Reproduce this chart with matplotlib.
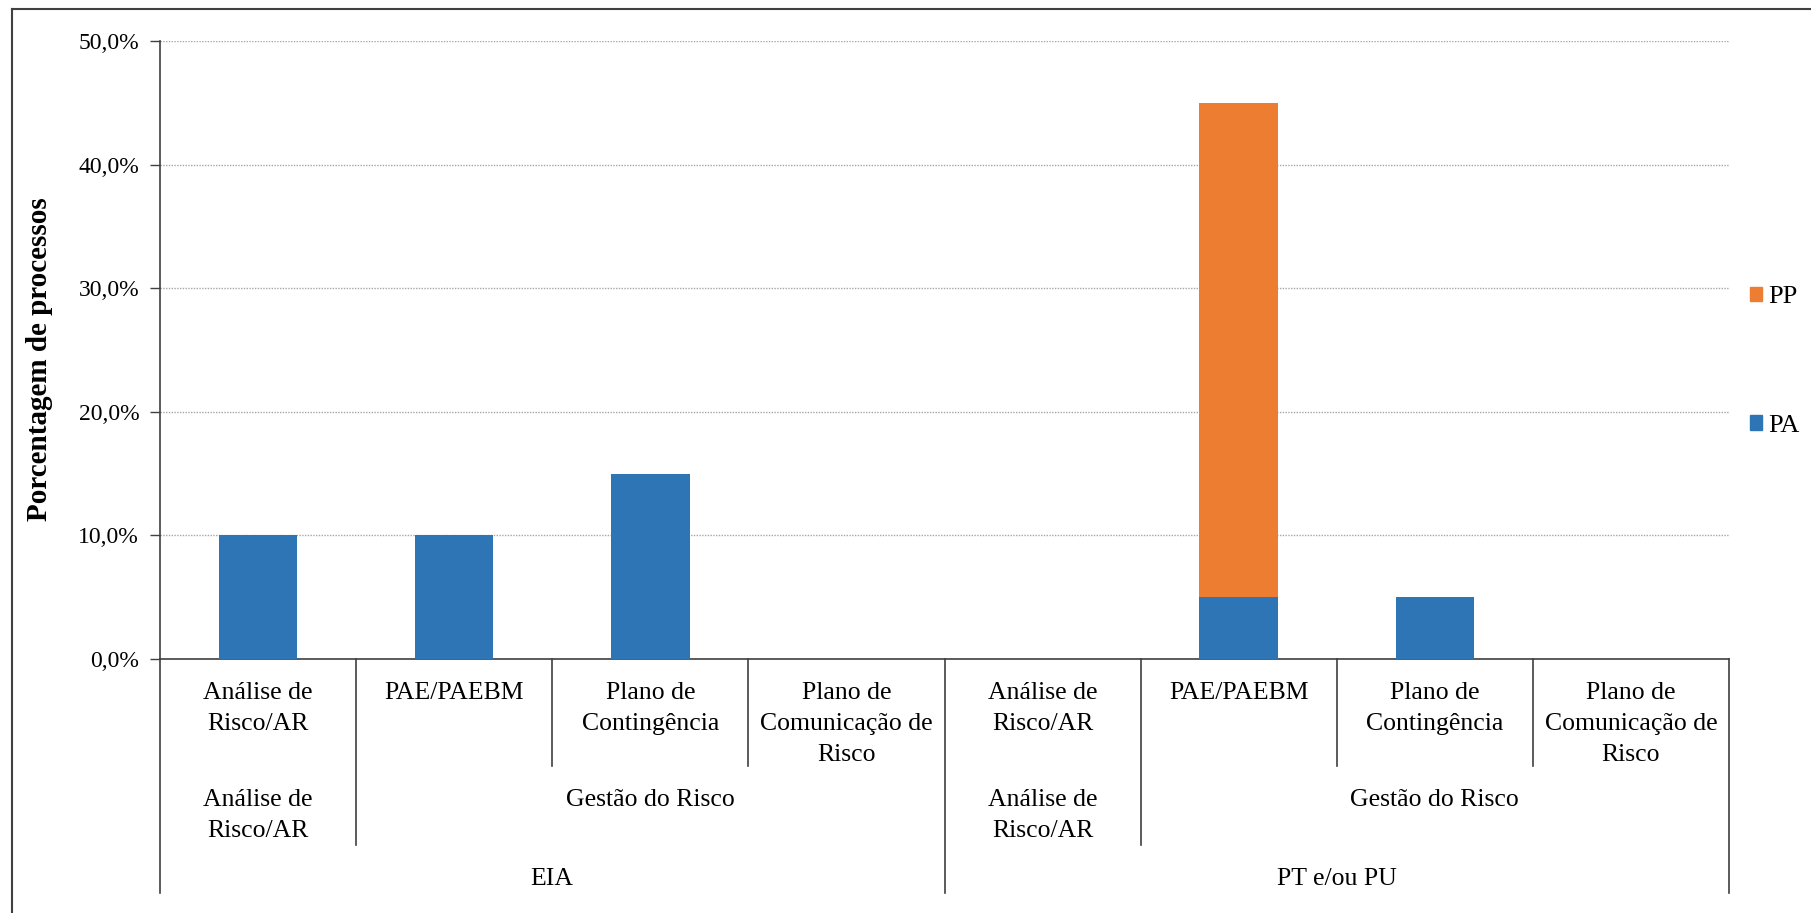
import matplotlib.pyplot as plt
from matplotlib.ticker import FuncFormatter
from matplotlib.patches import Patch
from matplotlib.lines import Line2D

plt.rcParams['font.family'] = ['Liberation Serif', 'DejaVu Serif']

# Categories (three nested levels) and the stacked percentages
documentos = ['EIA', 'PT e/ou PU']
grupos = ['Análise de\nRisco/AR', 'Gestão do Risco', 'Análise de\nRisco/AR', 'Gestão do Risco']
itens = ['Análise de\nRisco/AR', 'PAE/PAEBM', 'Plano de\nContingência', 'Plano de\nComunicação de\nRisco',
         'Análise de\nRisco/AR', 'PAE/PAEBM', 'Plano de\nContingência', 'Plano de\nComunicação de\nRisco']
pa = [10.0, 10.0, 15.0, 0.0, 0.0, 5.0, 5.0, 0.0]
pp = [0.0, 0.0, 0.0, 0.0, 0.0, 40.0, 0.0, 0.0]

# group spans in category index units
grupo_span = [(0, 0), (1, 3), (4, 4), (5, 7)]
doc_span = [(0, 3), (4, 7)]

W, H = 1811, 913
fig = plt.figure(figsize=(W / 100, H / 100), dpi=100)
ax_l, ax_r, ax_t, ax_b = 160, 1729, 41, 659
ax = fig.add_axes([ax_l / W, 1 - ax_b / H, (ax_r - ax_l) / W, (ax_b - ax_t) / H])

x = list(range(len(itens)))
ax.bar(x, pa, width=0.4, color='#2E75B6', zorder=3)
ax.bar(x, pp, width=0.4, bottom=pa, color='#ED7D31', zorder=3)

ax.set_xlim(-0.5, len(itens) - 0.5)
ax.set_ylim(0, 50)
ax.set_yticks([0, 10, 20, 30, 40, 50])
ax.yaxis.set_major_formatter(FuncFormatter(lambda v, _: f'{v:.1f}%'.replace('.', ',')))
ax.tick_params(axis='y', labelsize=17, length=7, width=1, color='#404040', pad=8)
ax.set_xticks([])
ax.grid(axis='y', linestyle=(0, (1, 1)), color='#a6a6a6', linewidth=1, zorder=0)
for s in ['top', 'right']:
    ax.spines[s].set_visible(False)
for s in ['left', 'bottom']:
    ax.spines[s].set_color('#404040')
    ax.spines[s].set_linewidth(1.2)

fig.text(40 / W, 1 - 359 / H, 'Porcentagem de processos', rotation=90,
         ha='center', va='center', fontsize=21, fontweight='bold')


def yfrac(px):
    return (ax_b - px) / (ax_b - ax_t)


tr = ax.get_xaxis_transform()


def sep(xpos, bottom_px):
    ax.add_line(Line2D([xpos, xpos], [0, yfrac(bottom_px)], transform=tr,
                       color='#404040', lw=1.2, clip_on=False))


# separator lines under the axis
for i in range(len(itens) + 1):
    b = i - 0.5
    if any(b == s - 0.5 or b == e + 0.5 for s, e in doc_span):
        sep(b, 893)
    elif any(b == s - 0.5 or b == e + 0.5 for s, e in grupo_span):
        sep(b, 845)
    else:
        sep(b, 766)

for i, lab in enumerate(itens):
    ax.text(i, yfrac(682), lab, transform=tr, ha='center', va='top',
            fontsize=18.5, linespacing=1.54)
for (s, e), lab in zip(grupo_span, grupos):
    ax.text((s + e) / 2, yfrac(789), lab, transform=tr, ha='center', va='top',
            fontsize=18.5, linespacing=1.54)
for (s, e), lab in zip(doc_span, documentos):
    ax.text((s + e) / 2, yfrac(868), lab, transform=tr, ha='center', va='top',
            fontsize=18.5)

handles = [Patch(color='#ED7D31', label='PP'), Patch(color='#2E75B6', label='PA')]
fig.legend(handles=handles, loc='upper left', bbox_to_anchor=(1750 / W, 1 - 286 / H),
           frameon=False, fontsize=19, handlelength=0.45, handleheight=0.45,
           handletextpad=0.25, labelspacing=4.05, borderaxespad=0, borderpad=0)

# outer frame (left and top edges)
fig.add_artist(Line2D([11.5 / W, 11.5 / W], [0, 1 - 9.5 / H], color='#404040', lw=1.5))
fig.add_artist(Line2D([11.5 / W, 1], [1 - 9.5 / H, 1 - 9.5 / H], color='#404040', lw=1.5))

fig.savefig('out.png', dpi=100)
